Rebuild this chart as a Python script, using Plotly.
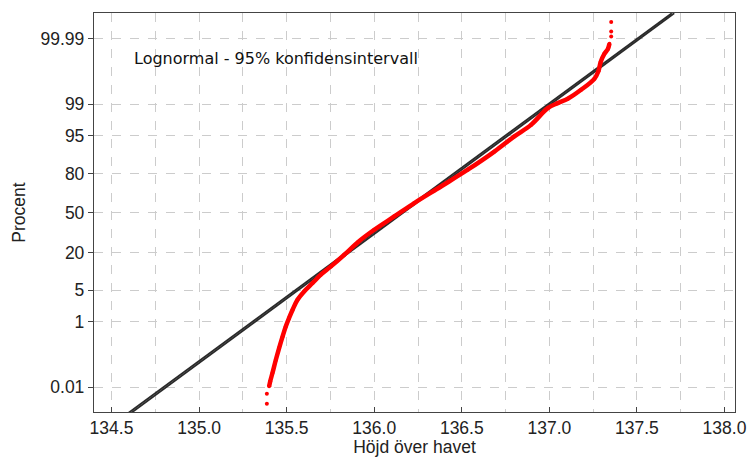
import plotly.graph_objects as go
from statistics import NormalDist

# ---- data ----
# empirical points: height above sea level and cumulative percent
height = [135.387, 135.387, 135.400, 135.406, 135.419, 135.438, 135.457, 135.477,
          135.495, 135.514, 135.534, 135.562, 135.600, 135.648, 135.695, 135.753,
          135.829, 135.910, 136.000, 136.114, 136.229, 136.381, 136.534, 136.686,
          136.800, 136.895, 136.991, 137.048, 137.105, 137.181, 137.257, 137.280,
          137.293, 137.314, 137.334, 137.343, 137.353, 137.353, 137.353]
percent = [0.00232, 0.0057, 0.0107, 0.0161, 0.0316, 0.0845, 0.196, 0.42,
           0.77, 1.25, 1.94, 3.19, 4.69, 6.73, 9.39, 12.7,
           18.6, 27.0, 36.0, 47.0, 58.4, 71.4, 82.2, 90.5,
           94.9, 97.0, 98.74, 99.05, 99.26, 99.573, 99.791, 99.876,
           99.937, 99.966, 99.977, 99.985, 99.9917, 99.99465, 99.99772]

# fitted lognormal with 95% confidence bounds (read at the plot edges)
fit_percent = [0.001, 50.0, 99.999]
ci_lower = [134.598, 136.150, 137.699]
ci_upper = [134.614, 136.160, 137.713]

tick_percent = [0.01, 1, 5, 20, 50, 80, 95, 99, 99.99]
tick_labels = ["0.01", "1", "5", "20", "50", "80", "95", "99", "99.99"]

x_ticks = [134.5, 135.0, 135.5, 136.0, 136.5, 137.0, 137.5, 138.0]

nd = NormalDist()
def zq(p):
    return nd.inv_cdf(p / 100.0)

y_pts = [zq(p) for p in percent]
y_fit = [zq(p) for p in fit_percent]

fig = go.Figure()

for xs in (ci_lower, ci_upper):
    fig.add_trace(go.Scatter(x=xs, y=y_fit, mode="lines",
                             line=dict(color="#2a2a2a", width=1.8),
                             hoverinfo="skip", showlegend=False))

# continuous band of dense points
body = slice(2, 36)
fig.add_trace(go.Scatter(x=height[body], y=y_pts[body], mode="lines",
                         line=dict(color="#ff0000", width=4.5, shape="spline"),
                         showlegend=False))
fig.add_trace(go.Scatter(x=height, y=y_pts, mode="markers",
                         marker=dict(color="#ff0000", size=4),
                         showlegend=False))

fig.add_annotation(text="Lognormal - 95% konfidensintervall",
                   xref="paper", yref="paper", x=0.059, y=0.887,
                   xanchor="left", yanchor="middle", showarrow=False,
                   font=dict(family="DejaVu Sans", size=16, color="#111"))

fig.update_layout(
    width=747, height=457,
    margin=dict(l=94, r=12, t=13, b=45, autoexpand=False),
    paper_bgcolor="white", plot_bgcolor="white",
    font=dict(family="Liberation Sans, Arial", size=17.5, color="#222"),
    xaxis=dict(
        range=[134.40, 138.06], tickvals=x_ticks,
        ticktext=[f"{v:.1f}" for v in x_ticks],
        ticks="inside", ticklen=5, tickcolor="#444",
        showgrid=True, gridcolor="#cccccc", griddash="dash", gridwidth=1,
        minor=dict(dtick=0.25, tick0=134.5, showgrid=True, gridcolor="#cccccc",
                   griddash="dash", gridwidth=1),
        showline=True, linecolor="#444", linewidth=1.3, mirror=True,
        zeroline=False,
        title=dict(text="Höjd över havet", standoff=2, font=dict(size=17.5)),
    ),
    yaxis=dict(
        range=[-4.25, 4.27],
        tickvals=[zq(p) for p in tick_percent], ticktext=tick_labels,
        ticks="outside", ticklen=5, tickcolor="#444",
        showgrid=True, gridcolor="#cccccc", griddash="dash", gridwidth=1,
        showline=True, linecolor="#444", linewidth=1.3, mirror=True,
        zeroline=False,
        title=dict(text="Procent", standoff=10, font=dict(size=17.5)),
    ),
)

fig.write_html("out.html")
